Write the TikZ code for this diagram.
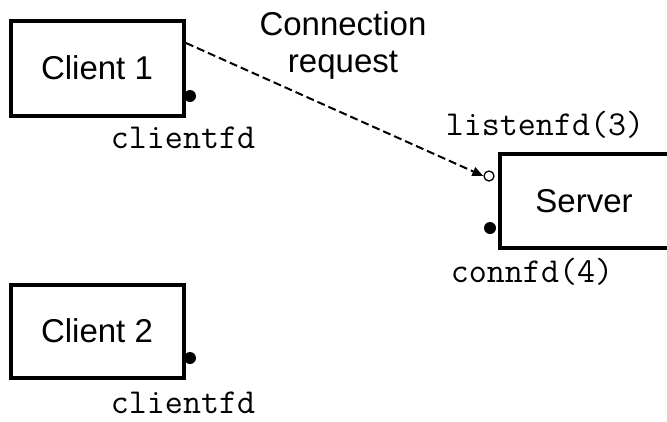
\documentclass[tikz,border=0pt]{standalone}
\usepackage{fontspec}
\setmainfont{Liberation Sans}
\usetikzlibrary{arrows.meta}
\begin{document}
\begin{tikzpicture}[x=1pt,y=-1pt,
  boxstyle/.style={draw,line width=4pt,inner sep=0pt,font=\fontsize{33}{37}\selectfont},
  fdot/.style={circle,fill=black,inner sep=0pt,minimum size=12pt},
  odot/.style={circle,draw=black,fill=white,line width=1.3pt,inner sep=0pt,minimum size=10pt},
  monolab/.style={anchor=base,inner sep=0pt,font=\ttfamily\fontsize{35}{38}\selectfont},
  sanslab/.style={align=center,inner sep=0pt,font=\fontsize{33}{37}\selectfont}]
\useasboundingbox (0,0) rectangle (667,421);
\begin{scope}
\clip (0,0) rectangle (667,421);
\node[boxstyle,minimum width=173pt,minimum height=95pt] (c1) at (97,68) {Client 1};
\node[boxstyle,minimum width=173pt,minimum height=93pt] (c2) at (97,331) {Client 2};
\node[boxstyle,minimum width=169pt,minimum height=93.5pt] (srv) at (584,201) {Server};
\end{scope}
\node[fdot] (d1) at (190,96) {};
\node[fdot] (d2) at (190,358) {};
\node[fdot] (d3) at (490,228) {};
\node[odot] (lo) at (489,176) {};
\node[monolab] (l1) at (183,148) {clientfd};
\node[monolab] (l2) at (183,413) {clientfd};
\node[monolab] (l3) at (545,135) {listenfd(3)};
\node[monolab] (l4) at (532,282) {connfd(4)};
\node[sanslab,anchor=base] (t1) at (343,35) {Connection};
\node[sanslab,anchor=base] (t2) at (343,72) {request};
\coordinate (s) at (186,43);
\draw[line width=2pt,dash pattern=on 8pt off 4pt,-{Triangle[length=11pt,width=9pt]}] (s) -- (lo.west);
\end{tikzpicture}
\end{document}
